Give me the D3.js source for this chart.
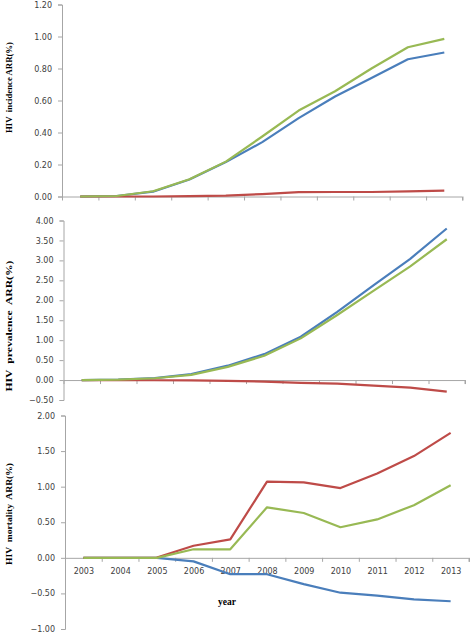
<!DOCTYPE html>
<html><head><meta charset="utf-8">
<script src="https://cdn.jsdelivr.net/npm/d3@7"></script>
<style>body{margin:0;background:#fff}svg{display:block}</style>
</head><body><svg id="c" width="472" height="635"></svg>
<script>
const years = ["2003","2004","2005","2006","2007","2008","2009","2010","2011","2012","2013"];

// Panel 1: HIV incidence ARR(%)
const incBlue  = [0, 0.003, 0.03, 0.106, 0.215, 0.34, 0.49, 0.625, 0.74, 0.858, 0.90];
const incRed   = [0, 0, 0, 0.002, 0.005, 0.015, 0.027, 0.028, 0.028, 0.032, 0.037];
const incGreen = [0, 0.003, 0.033, 0.108, 0.218, 0.375, 0.537, 0.658, 0.80, 0.933, 0.985];
const incTicks = [0, 0.2, 0.4, 0.6, 0.8, 1.0, 1.2];

// Panel 2: HIV prevalence ARR(%)
const prevBlue  = [0, 0.01, 0.05, 0.15, 0.36, 0.65, 1.085, 1.71, 2.38, 3.04, 3.80];
const prevRed   = [0, 0, -0.005, -0.01, -0.02, -0.04, -0.07, -0.09, -0.14, -0.19, -0.29];
const prevGreen = [0, 0.01, 0.045, 0.13, 0.33, 0.61, 1.045, 1.63, 2.24, 2.85, 3.53];
const prevTicks = [-0.5, 0, 0.5, 1, 1.5, 2, 2.5, 3, 3.5, 4];

// Panel 3: HIV mortality ARR(%)
const mortBlue  = [0, 0, 0, -0.05, -0.23, -0.23, -0.37, -0.49, -0.53, -0.585, -0.61];
const mortRed   = [0, 0, 0.005, 0.17, 0.26, 1.07, 1.06, 0.98, 1.185, 1.43, 1.755];
const mortGreen = [0, 0, 0, 0.12, 0.12, 0.71, 0.63, 0.43, 0.54, 0.74, 1.02];
const mortTicks = [-1, -0.5, 0, 0.5, 1, 1.5, 2];

const colors = {blue:"#4a7ebb", red:"#be4b48", green:"#98b954"};
const svg = d3.select("#c");

function panel(cfg){
  const g = svg.append("g");
  const x = d3.scaleLinear().domain([0, years.length]).range([cfg.x0, cfg.x1]);
  const y = d3.scaleLinear().domain(cfg.domain).range([cfg.yb, cfg.yt]);
  const ya = g.append("g").attr("transform",`translate(${cfg.x0},0)`)
    .call(d3.axisLeft(y).tickValues(cfg.ticks).tickFormat(d3.format(".2f")).tickSize(4).tickPadding(6));
  ya.selectAll("path,line").attr("stroke","#a6a6a6");
  ya.select(".domain").attr("d",`M-4,${y(cfg.domain[0])+0.5}H0.5V${y(cfg.domain[1])+0.5}H-4`);
  ya.selectAll("text").attr("font-family","DejaVu Sans").attr("font-size",8).attr("fill","#404040");
  const xa = g.append("g").attr("transform",`translate(0,${y(0)})`)
    .call(d3.axisBottom(x).tickValues(d3.range(years.length+1)).tickFormat("").tickSize(4));
  xa.selectAll("path,line").attr("stroke","#a6a6a6");
  xa.select(".domain").attr("d",`M${cfg.x0},0.5H${cfg.x1}V4`);
  if (cfg.labels){
    const la = g.append("g").attr("transform",`translate(0,${y(0)})`)
      .call(d3.axisBottom(x).tickValues(d3.range(years.length).map(i=>i+0.5))
        .tickFormat((d,i)=>years[i]).tickSize(0).tickPadding(10));
    la.select(".domain").remove();
    la.selectAll("text").attr("font-family","DejaVu Sans").attr("font-size",8).attr("fill","#404040");
  }
  const line = d3.line().x((d,i)=>x(i+0.5)).y(d=>y(d));
  cfg.series.forEach(s=>{
    g.append("path").datum(s.values).attr("d",line).attr("fill","none")
      .attr("stroke",s.color).attr("stroke-width",2.2).attr("stroke-linejoin","round");
  });
  g.append("text").attr("transform",`translate(${cfg.tx},${cfg.ty}) rotate(-90)`)
    .attr("text-anchor","middle").attr("dominant-baseline","central")
    .attr("font-family","Liberation Serif").attr("font-weight","bold").attr("font-size",9)
    .attr("textLength",cfg.tlen).attr("lengthAdjust","spacingAndGlyphs")
    .attr("fill","#000").text(cfg.title);
}

panel({x0:62,x1:462.5,yt:4.5,yb:196.5,domain:[0,1.2],ticks:incTicks,
  series:[{values:incBlue,color:colors.blue},{values:incRed,color:colors.red},{values:incGreen,color:colors.green}],
  title:"HIV\u00a0 incidence ARR(%)",tx:8.5,ty:87.5,tlen:91});
panel({x0:63.5,x1:465,yt:220.5,yb:400,domain:[-0.5,4],ticks:prevTicks,
  series:[{values:prevBlue,color:colors.blue},{values:prevRed,color:colors.red},{values:prevGreen,color:colors.green}],
  title:"HIV\u00a0 prevalence\u00a0 ARR(%)",tx:8.5,ty:326,tlen:131});
panel({x0:65,x1:469,yt:415.5,yb:629,domain:[-1,2],ticks:mortTicks,labels:true,
  series:[{values:mortBlue,color:colors.blue},{values:mortRed,color:colors.red},{values:mortGreen,color:colors.green}],
  title:"HIV\u00a0 mortality\u00a0 ARR(%)",tx:9,ty:514,tlen:102});

svg.append("text").attr("x",227).attr("y",602).attr("text-anchor","middle").attr("dominant-baseline","central")
  .attr("font-family","Liberation Serif").attr("font-weight","bold").attr("font-size",9.5).text("year");
</script></body></html>
